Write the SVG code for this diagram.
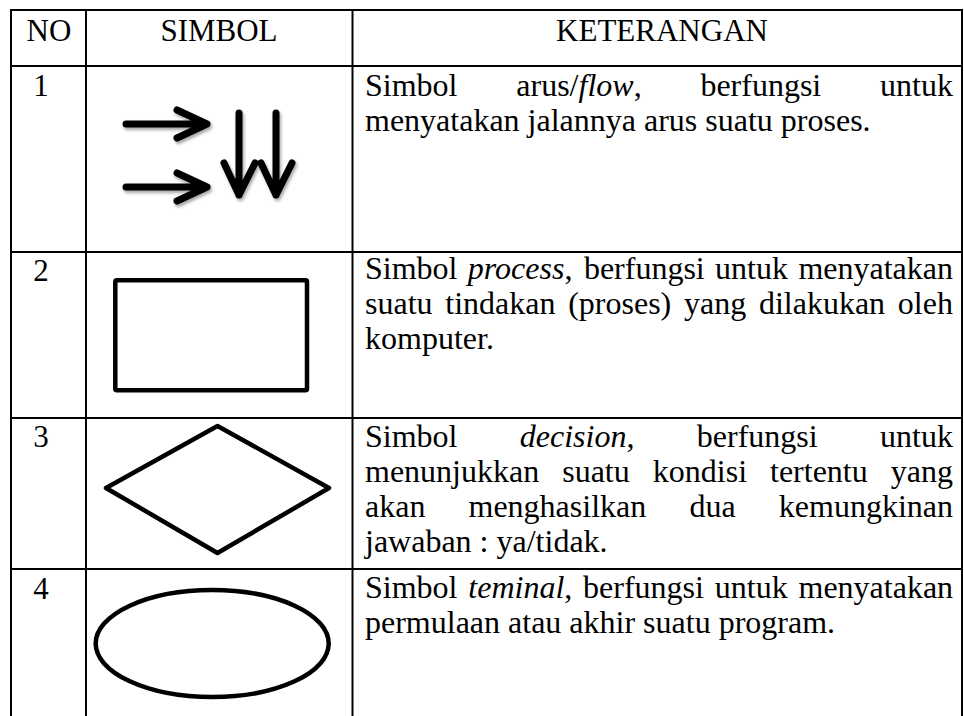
<svg xmlns="http://www.w3.org/2000/svg" width="964" height="716" viewBox="0 0 964 716">
<defs>
<style>
.t{font-family:"Liberation Serif","Times New Roman",serif;font-size:32px;fill:#000}
.h{font-size:31px}
.c{text-anchor:middle}
.i{font-style:italic}
.grid line{stroke:#000;stroke-width:2}
.sym{fill:none;stroke:#000;stroke-width:4.5;stroke-linejoin:round}
.arr{fill:none;stroke:#000;stroke-width:7;stroke-linecap:round;stroke-linejoin:round}
</style>
<filter id="sh" x="-20%" y="-20%" width="140%" height="140%">
<feDropShadow dx="1.5" dy="2.5" stdDeviation="1.5" flood-color="#000" flood-opacity="0.35"/>
</filter>
</defs>
<rect width="964" height="716" fill="#fff"/>
<g id="grid" class="grid">
<line x1="10" y1="10" x2="963" y2="10"/>
<line x1="10" y1="66" x2="963" y2="66"/>
<line x1="10" y1="252" x2="963" y2="252"/>
<line x1="10" y1="418" x2="963" y2="418"/>
<line x1="10" y1="569" x2="963" y2="569"/>
<line x1="11" y1="9" x2="11" y2="716"/>
<line x1="86" y1="9" x2="86" y2="716"/>
<line x1="352.5" y1="9" x2="352.5" y2="716"/>
<line x1="962" y1="9" x2="962" y2="716"/>
</g>
<g id="header">
<text class="t h c" x="49" y="41">NO</text>
<text class="t h c" x="219" y="41">SIMBOL</text>
<text class="t h c" x="662" y="41">KETERANGAN</text>
</g>
<g id="row1">
<text class="t h c" x="41" y="96">1</text>
<g id="flow-symbol" class="arr" filter="url(#sh)">
<path d="M126 124H205M177 110L207 124L177 138"/>
<path d="M126 187H205M177 173L207 187L177 201"/>
<path d="M239 113V195M224 163L239 195L255 163"/>
<path d="M276 113V195M261 163L276 195L292 163"/>
</g>
<text class="t" y="96"><tspan x="365">Simbol</tspan><tspan x="516.3">arus/</tspan><tspan class="i">flow</tspan><tspan>,</tspan><tspan x="700.4">berfungsi</tspan><tspan x="880.1">untuk</tspan></text>
<text class="t" x="365" y="131">menyatakan jalannya arus suatu proses.</text>
</g>
<g id="row2">
<text class="t h c" x="41" y="281">2</text>
<rect id="process-symbol" class="sym" x="115.3" y="280.3" width="191.7" height="110" rx="1.5"/>
<text class="t" y="279"><tspan x="365">Simbol</tspan><tspan x="467.8" class="i">process</tspan><tspan>,</tspan><tspan x="583.9">berfungsi</tspan><tspan x="715.1">untuk</tspan><tspan x="798.4">menyatakan</tspan></text>
<text class="t" y="314"><tspan x="365">suatu</tspan><tspan x="445.3">tindakan</tspan><tspan x="568.2">(proses)</tspan><tspan x="684">yang</tspan><tspan x="758.9">dilakukan</tspan><tspan x="897.8">oleh</tspan></text>
<text class="t" x="365" y="349">komputer.</text>
</g>
<g id="row3">
<text class="t h c" x="41" y="447">3</text>
<polygon id="decision-symbol" class="sym" points="217.5,426 329,488 217.5,553 106,488"/>
<text class="t" y="447"><tspan x="365">Simbol</tspan><tspan x="519.8" class="i">decision</tspan><tspan>,</tspan><tspan x="696.8">berfungsi</tspan><tspan x="880.1">untuk</tspan></text>
<text class="t" y="482"><tspan x="365">menunjukkan</tspan><tspan x="562.2">suatu</tspan><tspan x="652.8">kondisi</tspan><tspan x="770">tertentu</tspan><tspan x="890.8">yang</tspan></text>
<text class="t" y="517"><tspan x="365">akan</tspan><tspan x="468.5">menghasilkan</tspan><tspan x="689.4">dua</tspan><tspan x="778.8">kemungkinan</tspan></text>
<text class="t" x="365" y="552">jawaban : ya/tidak.</text>
</g>
<g id="row4">
<text class="t h c" x="41" y="599">4</text>
<ellipse id="terminal-symbol" class="sym" cx="212.2" cy="643.5" rx="116.5" ry="53.5"/>
<text class="t" y="598"><tspan x="365">Simbol</tspan><tspan x="468.3" class="i">teminal</tspan><tspan>,</tspan><tspan x="583.1">berfungsi</tspan><tspan x="714.8">untuk</tspan><tspan x="798.5">menyatakan</tspan></text>
<text class="t" x="365" y="633">permulaan atau akhir suatu program.</text>
</g>
</svg>
